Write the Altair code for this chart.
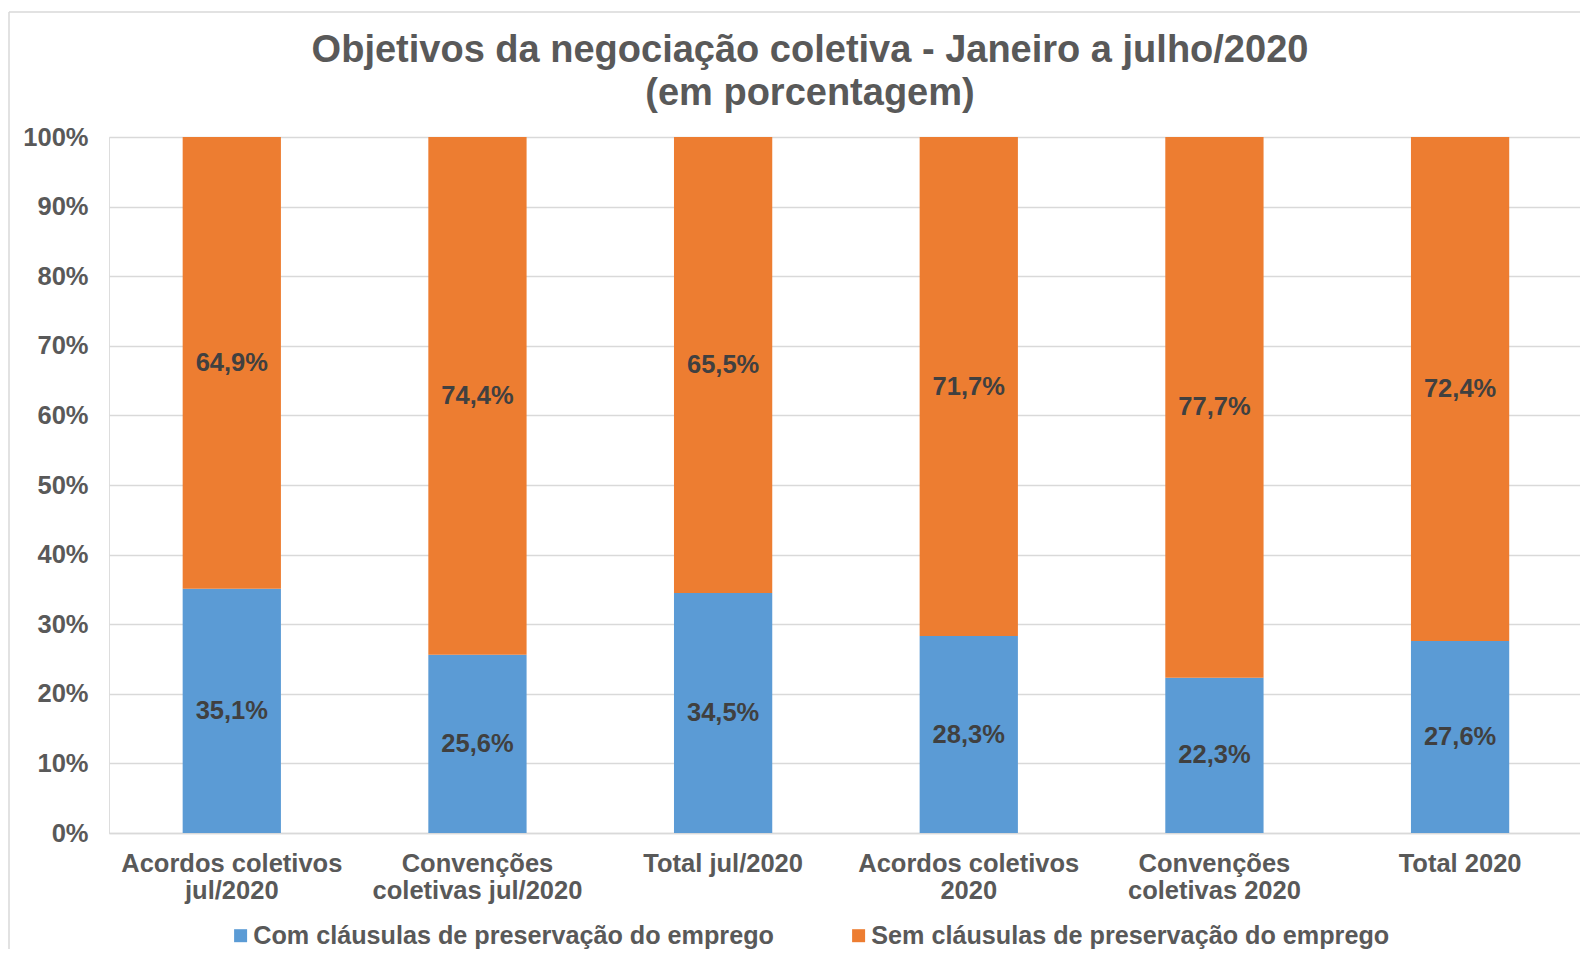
import altair as alt
import pandas as pd

# ---- data ----
categorias = [
    "Acordos coletivos\njul/2020",
    "Convenções\ncoletivas jul/2020",
    "Total jul/2020",
    "Acordos coletivos\n2020",
    "Convenções\ncoletivas 2020",
    "Total 2020",
]
com_clausulas = [35.1, 25.6, 34.5, 28.3, 22.3, 27.6]
sem_clausulas = [64.9, 74.4, 65.5, 71.7, 77.7, 72.4]
series = [
    "Com cláusulas de preservação do emprego",
    "Sem cláusulas de preservação do emprego",
]
cores = ["#5B9BD5", "#ED7D31"]
y_ticks = [0, 10, 20, 30, 40, 50, 60, 70, 80, 90, 100]
titulo = ["Objetivos da negociação coletiva - Janeiro a julho/2020", "(em porcentagem)"]

FONT = "Liberation Sans"
GRAY = "#595959"
GRID = "#D9D9D9"
FS = 25.5

rows = []
for ordem, (serie, vals) in enumerate(zip(series, [com_clausulas, sem_clausulas])):
    for cat, v in zip(categorias, vals):
        rows.append({
            "categoria": cat,
            "serie": serie,
            "ordem": ordem,
            "valor": v,
            "rotulo": f"{v:.1f}".replace(".", ",") + "%",
        })
df = pd.DataFrame(rows)

base = alt.Chart(df).transform_stack(
    stack="valor",
    groupby=["categoria"],
    as_=["v0", "v1"],
    sort=[alt.SortField("ordem", order="ascending")],
).transform_calculate(meio="(datum.v0 + datum.v1) / 2")

x_scale = alt.Scale(paddingInner=0.6, paddingOuter=0.294, align=0.51)

x_enc = alt.X(
    "categoria:N",
    sort=categorias,
    scale=x_scale,
    axis=alt.Axis(
        title=None,
        labelAngle=0,
        labelExpr="split(datum.label, '\\n')",
        labelFontSize=FS,
        labelFontWeight="bold",
        labelColor=GRAY,
        labelFont=FONT,
        labelLineHeight=27,
        labelPadding=18,
        labelLimit=0,
        ticks=False,
        domain=True,
        domainColor=GRID,
        domainWidth=1.5,
        grid=False,
    ),
)

bars = base.mark_bar().encode(
    x=x_enc,
    y=alt.Y(
        "v0:Q",
        scale=alt.Scale(domain=[0, 100], nice=False),
        axis=alt.Axis(
            title=None,
            values=y_ticks,
            labelExpr="datum.value + '%'",
            labelFontSize=FS,
            labelFontWeight="bold",
            labelColor=GRAY,
            labelFont=FONT,
            labelPadding=21,
            ticks=False,
            domain=False,
            grid=True,
            gridColor=GRID,
            gridWidth=1.5,
        ),
    ),
    y2="v1:Q",
    color=alt.Color(
        "serie:N",
        scale=alt.Scale(domain=series, range=cores),
        legend=alt.Legend(
            title=None,
            orient="none",
            legendX=119,
            legendY=786,
            direction="horizontal",
            symbolType="square",
            symbolSize=169,
            symbolStrokeWidth=0,
            symbolOpacity=1,
            labelFontSize=25.2,
            labelFontWeight="bold",
            labelColor=GRAY,
            labelFont=FONT,
            labelOffset=0,
            columnPadding=72,
            padding=0,
            labelLimit=0,
        ),
    ),
    order=alt.Order("ordem:Q"),
)

labels = base.mark_text(
    fontSize=FS, fontWeight="bold", color="#404040", font=FONT, baseline="middle"
).encode(
    x=alt.X("categoria:N", sort=categorias, scale=x_scale),
    y=alt.Y("meio:Q"),
    text="rotulo:N",
)

frame_df = pd.DataFrame({"z": [0]})
left_border = alt.Chart(frame_df).mark_rule(color=GRID, strokeWidth=1.5).encode(
    x=alt.value(-100), y=alt.value(-125), y2=alt.value(840)
)
top_border = alt.Chart(frame_df).mark_rule(color=GRID, strokeWidth=1.5).encode(
    x=alt.value(-100), x2=alt.value(1475), y=alt.value(-125)
)
title_text = alt.Chart(frame_df).mark_text(
    align="center", baseline="top", fontSize=38, fontWeight="bold",
    color=GRAY, font=FONT, lineHeight=42.6,
).encode(
    x=alt.value(701), y=alt.value(-105), text=alt.value(titulo)
)

chart = alt.layer(bars, labels, left_border, top_border, title_text).properties(
    width=1471,
    height=696,
    padding={"left": 101, "top": 129, "right": 0, "bottom": 116},
    autosize=alt.AutoSizeParams(type="none"),
).configure_view(stroke=None).configure(background="white")

chart.save("out.html", embed_options={"renderer": "svg", "actions": False})
